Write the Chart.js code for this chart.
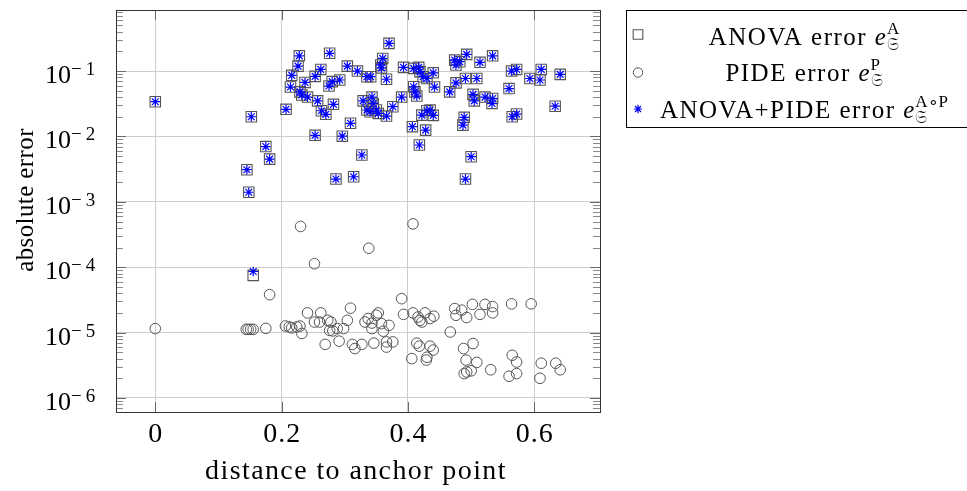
<!DOCTYPE html>
<html>
<head>
<meta charset="utf-8">
<title>absolute error vs distance to anchor point</title>
<script src="https://cdn.jsdelivr.net/npm/chart.js@4.4.1/dist/chart.umd.min.js"></script>
<style>
  html, body { margin: 0; padding: 0; background: #fff; overflow: hidden; }
  #wrap { position: relative; width: 967px; height: 491px; }
</style>
</head>
<body>
<div id="wrap"><canvas id="errChart" width="967" height="491"></canvas></div>
<script>
// distance to anchor point, ANOVA samples (the combined series uses the same points)
const distA = [0, 0.152, 0.175, 0.181, 0.145, 0.148, 0.207, 0.228, 0.226, 0.216,
  0.214, 0.237, 0.229, 0.232, 0.241, 0.253, 0.262, 0.276, 0.304, 0.257,
  0.263, 0.270, 0.282, 0.275, 0.280, 0.292, 0.309, 0.253, 0.296, 0.286,
  0.314, 0.320, 0.335, 0.341, 0.370, 0.360, 0.357, 0.358, 0.366, 0.329,
  0.343, 0.345, 0.335, 0.340, 0.350, 0.353, 0.366, 0.376, 0.390, 0.393,
  0.409, 0.417, 0.419, 0.424, 0.430, 0.440, 0.442, 0.409, 0.411, 0.414,
  0.422, 0.430, 0.435, 0.440, 0.407, 0.428, 0.418, 0.327, 0.466, 0.476,
  0.474, 0.476, 0.493, 0.482, 0.491, 0.509, 0.514, 0.534, 0.503, 0.505,
  0.522, 0.534, 0.533, 0.489, 0.487, 0.500, 0.491, 0.560, 0.564, 0.572,
  0.565, 0.572, 0.593, 0.611, 0.609, 0.641, 0.633, 0.155];

// ANOVA error
const errA = [0.034, 0.020, 0.0070, 0.0045, 0.0031, 0.0014, 0.026, 0.171, 0.119, 0.086,
  0.057, 0.067, 0.048, 0.043, 0.040, 0.083, 0.106, 0.187, 0.119, 0.035,
  0.0247, 0.0218, 0.031, 0.059, 0.069, 0.073, 0.0159, 0.0104, 0.0101, 0.00223,
  0.00242, 0.100, 0.082, 0.082, 0.265, 0.156, 0.124, 0.112, 0.075, 0.035,
  0.040, 0.032, 0.0254, 0.0239, 0.0254, 0.0225, 0.0205, 0.0285, 0.040, 0.114,
  0.110, 0.114, 0.098, 0.082, 0.077, 0.094, 0.057, 0.0575, 0.048, 0.0415,
  0.0212, 0.0247, 0.0253, 0.021, 0.0141, 0.0125, 0.0074, 0.0052, 0.048, 0.066,
  0.147, 0.124, 0.180, 0.139, 0.077, 0.077, 0.136, 0.171, 0.044, 0.035,
  0.040, 0.038, 0.032, 0.0196, 0.0149, 0.0049, 0.00223, 0.054, 0.100, 0.106,
  0.020, 0.022, 0.077, 0.106, 0.073, 0.089, 0.029, 0.000075];

// ANOVA+PIDE error
const errAP = [0.034, 0.020, 0.0070, 0.0045, 0.0031, 0.0014, 0.026, 0.171, 0.119, 0.086,
  0.057, 0.067, 0.048, 0.043, 0.040, 0.083, 0.106, 0.187, 0.119, 0.035,
  0.0247, 0.0218, 0.031, 0.059, 0.069, 0.073, 0.0159, 0.0104, 0.0101, 0.00223,
  0.00242, 0.100, 0.082, 0.082, 0.265, 0.156, 0.124, 0.112, 0.075, 0.035,
  0.040, 0.032, 0.0254, 0.0239, 0.0254, 0.0225, 0.0205, 0.0285, 0.040, 0.114,
  0.110, 0.114, 0.098, 0.082, 0.077, 0.094, 0.057, 0.0575, 0.048, 0.0415,
  0.0212, 0.0247, 0.0253, 0.021, 0.0141, 0.0125, 0.0074, 0.0052, 0.048, 0.066,
  0.147, 0.124, 0.180, 0.139, 0.077, 0.077, 0.136, 0.171, 0.044, 0.035,
  0.040, 0.038, 0.032, 0.0196, 0.0149, 0.0049, 0.00223, 0.054, 0.100, 0.106,
  0.020, 0.022, 0.077, 0.106, 0.073, 0.089, 0.029, 0.000086];

// PIDE samples
const distP = [0, 0.144, 0.147, 0.151, 0.155, 0.175, 0.181, 0.230, 0.252, 0.206,
  0.212, 0.216, 0.224, 0.229, 0.232, 0.241, 0.252, 0.262, 0.260, 0.273,
  0.278, 0.276, 0.281, 0.288, 0.298, 0.304, 0.309, 0.269, 0.291, 0.312,
  0.316, 0.408, 0.338, 0.390, 0.332, 0.337, 0.343, 0.350, 0.353, 0.358,
  0.370, 0.343, 0.361, 0.393, 0.327, 0.346, 0.366, 0.366, 0.376, 0.408,
  0.416, 0.419, 0.422, 0.427, 0.435, 0.441, 0.467, 0.414, 0.418, 0.435,
  0.440, 0.430, 0.429, 0.406, 0.474, 0.476, 0.485, 0.493, 0.502, 0.514,
  0.522, 0.534, 0.534, 0.564, 0.595, 0.488, 0.503, 0.492, 0.509, 0.489,
  0.493, 0.500, 0.531, 0.560, 0.572, 0.565, 0.572, 0.609, 0.611, 0.634, 0.641];

const errP = [1.15e-5, 1.12e-5, 1.12e-5, 1.12e-5, 1.12e-5, 1.16e-5, 3.8e-5, 4.2e-4, 1.13e-4, 1.26e-5,
  1.22e-5, 1.18e-5, 1.22e-5, 1.26e-5, 9.7e-6, 2.0e-5, 1.45e-5, 2.0e-5, 1.45e-5, 1.54e-5,
  1.45e-5, 1.08e-5, 1.06e-5, 1.15e-5, 1.15e-5, 1.54e-5, 2.36e-5, 6.6e-6, 7.4e-6, 6.6e-6,
  5.7e-6, 4.6e-4, 1.95e-4, 3.3e-5, 1.45e-5, 1.64e-5, 1.4e-5, 1.84e-5, 2.0e-5, 1.37e-5,
  1.29e-5, 1.15e-5, 1.05e-5, 1.9e-5, 6.6e-6, 6.9e-6, 6.0e-6, 7.2e-6, 7.2e-6, 2.0e-5,
  1.73e-5, 1.54e-5, 1.45e-5, 2.0e-5, 1.64e-5, 1.78e-5, 1.02e-5, 6.9e-6, 6.2e-6, 6.2e-6,
  5.4e-6, 4.2e-6, 3.8e-6, 4.0e-6, 2.33e-5, 1.84e-5, 2.2e-5, 1.7e-5, 2.7e-5, 1.9e-5,
  2.7e-5, 2.5e-5, 2.0e-5, 2.75e-5, 2.75e-5, 5.7e-6, 6.8e-6, 3.8e-6, 3.5e-6, 2.36e-6,
  2.5e-6, 2.6e-6, 2.7e-6, 2.15e-6, 2.36e-6, 4.5e-6, 3.55e-6, 2.0e-6, 3.4e-6, 3.4e-6, 2.7e-6];

// axes
const xTicks = [0, 0.2, 0.4, 0.6];
const xTickLabels = ['0', '0.2', '0.4', '0.6'];
const yTickExps = [-6, -5, -4, -3, -2, -1];
const xTitle = 'distance to anchor point';
const yTitle = 'absolute error';

// legend text: name, superscript (subscript is always the fraktur S)
const legendNames = ['ANOVA error ', 'PIDE error ', 'ANOVA+PIDE error '];
const legendSups = ['A', 'P', 'A\u2218P'];
const legendSub = '\uD835\uDD16';

const SERIF = "'Liberation Serif', 'Times New Roman', serif";

const toPoints = (xs, ys) => xs.map((x, i) => ({ x, y: ys[i] }));

// frame, tick marks, tick labels, titles and legend
const axisDecor = {
    id: 'axisDecor',
    beforeDatasetsDraw(chart) {
        const { ctx, chartArea: a, scales: { x, y } } = chart;
        ctx.save();
        ctx.lineWidth = 1;
        // minor ticks of the log axis, both sides
        ctx.strokeStyle = '#8a8a8a';
        ctx.beginPath();
        for (let d = -7; d <= 0; d++) {
            for (let m = 2; m <= 9; m++) {
                const v = m * Math.pow(10, d);
                if (v < y.min || v > y.max) continue;
                const py = Math.round(y.getPixelForValue(v)) + 0.5;
                ctx.moveTo(a.left, py); ctx.lineTo(a.left + 7, py);
                ctx.moveTo(a.right, py); ctx.lineTo(a.right - 7, py);
            }
        }
        ctx.stroke();
        // major ticks
        ctx.strokeStyle = '#6a6a6a';
        ctx.beginPath();
        xTicks.forEach(v => {
            const px = Math.round(x.getPixelForValue(v)) + 0.5;
            ctx.moveTo(px, a.bottom); ctx.lineTo(px, a.bottom - 10);
            ctx.moveTo(px, a.top); ctx.lineTo(px, a.top + 10);
        });
        yTickExps.forEach(e => {
            const py = Math.round(y.getPixelForValue(Math.pow(10, e))) + 0.5;
            ctx.moveTo(a.left, py); ctx.lineTo(a.left + 10, py);
            ctx.moveTo(a.right, py); ctx.lineTo(a.right - 10, py);
        });
        ctx.stroke();
        // frame
        ctx.strokeStyle = '#333';
        ctx.strokeRect(a.left + 0.5, a.top + 0.5, a.right - a.left, a.bottom - a.top);
        ctx.restore();
    },
    afterDraw(chart) {
        const { ctx, scales: { x, y } } = chart;
        ctx.save();
        ctx.fillStyle = '#000';

        // x tick labels
        ctx.font = `28px ${SERIF}`;
        ctx.letterSpacing = '1px';
        ctx.textAlign = 'center';
        ctx.textBaseline = 'alphabetic';
        xTicks.forEach((v, i) => {
            ctx.fillText(xTickLabels[i], x.getPixelForValue(v) + 0.5, 442);
        });

        // y tick labels 10^k
        ctx.textAlign = 'left';
        yTickExps.forEach(e => {
            const py = y.getPixelForValue(Math.pow(10, e));
            ctx.font = `26px ${SERIF}`;
            ctx.letterSpacing = '0px';
            ctx.fillText('10', 45, py + 12);
            ctx.font = `19px ${SERIF}`;
            ctx.letterSpacing = '4px';
            ctx.fillText('\u2212' + Math.abs(e), 71, py + 4);
        });

        // axis titles
        ctx.textAlign = 'center';
        ctx.font = `28px ${SERIF}`;
        ctx.letterSpacing = '1.4px';
        ctx.fillText(xTitle, 356, 479);
        ctx.save();
        ctx.translate(33, 200);
        ctx.rotate(-Math.PI / 2);
        ctx.font = `25px ${SERIF}`;
        ctx.letterSpacing = '0.4px';
        ctx.fillText(yTitle, 0, 0);
        ctx.restore();

        // legend
        ctx.strokeStyle = '#000';
        ctx.lineWidth = 1;
        ctx.strokeRect(626.5, 10.5, 360, 117);
        const markY = [34.5, 72.5, 109];
        const baseY = [44.5, 81, 117.5];
        chart.data.datasets.forEach((ds, i) => {
            ctx.strokeStyle = ds.borderColor;
            ctx.fillStyle = 'rgba(0,0,0,0)';
            ctx.lineWidth = ds.borderWidth;
            Chart.helpers.drawPoint(ctx, {
                pointStyle: ds.pointStyle,
                radius: ds.pointRadius - 0.6,
                borderWidth: ds.borderWidth,
                rotation: 0
            }, 638, markY[i]);

            ctx.fillStyle = '#000';
            ctx.textAlign = 'left';
            ctx.font = `25px ${SERIF}`;
            ctx.letterSpacing = '1.5px';
            const wName = ctx.measureText(legendNames[i]).width;
            ctx.font = `italic 25px ${SERIF}`;
            ctx.letterSpacing = '0px';
            const wE = ctx.measureText('e').width;
            ctx.font = `17px ${SERIF}`;
            const wSup = ctx.measureText(legendSups[i]).width;
            const wSub = ctx.measureText(legendSub).width;
            const total = wName + wE + 1 + Math.max(wSup, wSub);
            let cx = 804 - total / 2;

            ctx.font = `25px ${SERIF}`;
            ctx.letterSpacing = '1.5px';
            ctx.fillText(legendNames[i], cx, baseY[i]);
            cx += wName;
            ctx.font = `italic 25px ${SERIF}`;
            ctx.letterSpacing = '0px';
            ctx.fillText('e', cx, baseY[i]);
            cx += wE + 1;
            ctx.font = `17px ${SERIF}`;
            ctx.fillText(legendSups[i], cx, baseY[i] - 11);
            ctx.fillText(legendSub, cx, baseY[i] + 5);
        });
        ctx.restore();
    }
};

const renderErrorChart = () => {
    const ctx = document.getElementById('errChart').getContext('2d');
    new Chart(ctx, {
        type: 'scatter',
        data: {
            datasets: [{
                label: 'ANOVA error',
                data: toPoints(distA, errA),
                pointStyle: 'rect',
                pointRadius: 7.4,
                borderColor: '#555555',
                backgroundColor: 'rgba(0,0,0,0)',
                borderWidth: 1.1,
                order: 2
            }, {
                label: 'PIDE error',
                data: toPoints(distP, errP),
                pointStyle: 'circle',
                pointRadius: 5.3,
                borderColor: '#555555',
                backgroundColor: 'rgba(0,0,0,0)',
                borderWidth: 1,
                order: 1
            }, {
                label: 'ANOVA+PIDE error',
                data: toPoints(distA, errAP),
                pointStyle: 'star',
                pointRadius: 4.8,
                borderColor: '#0000ff',
                backgroundColor: '#0000ff',
                borderWidth: 1.2,
                order: 0
            }]
        },
        options: {
            responsive: false,
            animation: false,
            events: [],
            layout: { autoPadding: false, padding: { left: 0, top: 10, right: 367, bottom: 0 } },
            plugins: { legend: { display: false }, tooltip: { enabled: false } },
            scales: {
                x: {
                    type: 'linear',
                    min: -0.0622,
                    max: 0.704,
                    afterBuildTicks: s => { s.ticks = xTicks.map(v => ({ value: v })); },
                    afterFit: s => { s.height = 79; },
                    ticks: { display: false },
                    grid: { color: '#cdcdcd', lineWidth: 1, drawTicks: false },
                    border: { display: false }
                },
                y: {
                    type: 'logarithmic',
                    min: Math.pow(10, -6.2147),
                    max: Math.pow(10, -0.066),
                    afterBuildTicks: s => { s.ticks = yTickExps.map(e => ({ value: Math.pow(10, e) })); },
                    afterFit: s => { s.width = 116; },
                    ticks: { display: false },
                    grid: { color: '#cdcdcd', lineWidth: 1, drawTicks: false },
                    border: { display: false }
                }
            }
        },
        plugins: [axisDecor]
    });
};

renderErrorChart();
</script>
</body>
</html>
